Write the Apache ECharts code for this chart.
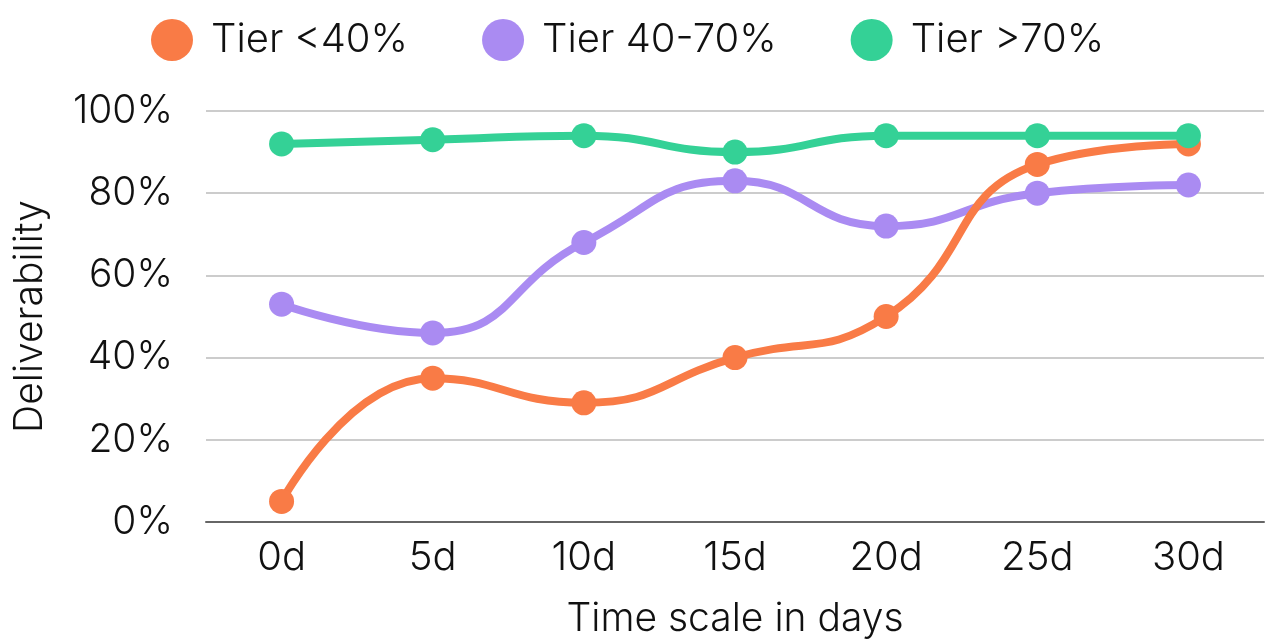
<!DOCTYPE html>
<html>
<head>
<meta charset="utf-8">
<script src="https://cdn.jsdelivr.net/npm/echarts@6/dist/echarts.min.js"></script>
<style>
  html, body { margin: 0; padding: 0; background: #ffffff; }
  #chart { width: 1265px; height: 640px; }
</style>
</head>
<body>
<div id="chart"></div>
<script>
// Deliverability by time since send, per engagement tier
const categories = ['0d', '5d', '10d', '15d', '20d', '25d', '30d'];
const tierLow = [5, 35, 29, 40, 50, 87, 92];
const tierMid = [53, 46, 68, 83, 72, 80, 82];
const tierHigh = [92, 93, 94, 90, 94, 94, 94];
const seriesNames = ['Tier <40%', 'Tier 40-70%', 'Tier >70%'];
const seriesColors = ['#F97B46', '#AA8BF2', '#34D196'];

const FONT = 'Inter, "Open Sans", sans-serif';
const TEXT = { fontFamily: FONT, fontWeight: 300, color: '#111111' };
const chart = echarts.init(document.getElementById('chart'), null, { renderer: 'canvas' });

function lineSeries(name, data, color, z) {
  return {
    name: name,
    type: 'line',
    data: data,
    smooth: 0.5,
    z: z,
    symbol: 'circle',
    symbolSize: 25,
    itemStyle: { color: color },
    lineStyle: { color: color, width: 8 },
    emphasis: { disabled: true }
  };
}

chart.setOption({
  animation: false,
  backgroundColor: '#ffffff',
  color: seriesColors,
  legend: {
    data: seriesNames,
    icon: 'circle',
    left: 146,
    top: 14,
    itemWidth: 68,
    itemHeight: 42,
    itemGap: 74,
    textStyle: Object.assign({ fontSize: 40 }, TEXT)
  },
  grid: { left: 206, right: 1, top: 111, bottom: 118, outerBoundsMode: 'none', containLabel: false },
  xAxis: {
    type: 'category',
    data: categories,
    boundaryGap: true,
    name: 'Time scale in days',
    nameLocation: 'middle',
    nameGap: 78,
    nameTextStyle: Object.assign({ fontSize: 39 }, TEXT),
    axisLine: { show: true, lineStyle: { color: '#666666', width: 2 } },
    axisTick: { show: false },
    axisLabel: Object.assign({ fontSize: 40, margin: 16 }, TEXT)
  },
  yAxis: {
    type: 'value',
    min: 0,
    max: 100,
    interval: 20,
    name: 'Deliverability',
    nameLocation: 'middle',
    nameGap: 156,
    nameRotate: 90,
    nameTextStyle: Object.assign({ fontSize: 39 }, TEXT),
    axisLine: { show: false },
    axisTick: { show: false },
    splitLine: { lineStyle: { color: '#cccccc', width: 2 } },
    axisLabel: Object.assign({ fontSize: 39, margin: 33, formatter: v => v + '%' }, TEXT)
  },
  series: [
    lineSeries(seriesNames[0], tierLow, seriesColors[0], 3),
    lineSeries(seriesNames[1], tierMid, seriesColors[1], 2),
    lineSeries(seriesNames[2], tierHigh, seriesColors[2], 4)
  ]
});
</script>
</body>
</html>
